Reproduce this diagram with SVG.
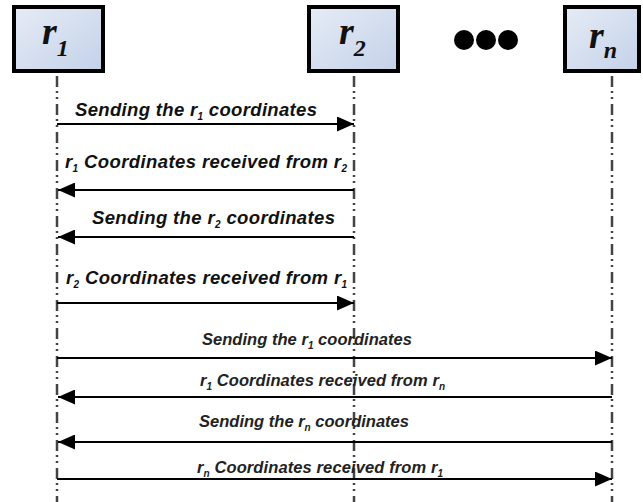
<svg xmlns="http://www.w3.org/2000/svg" width="643" height="502" viewBox="0 0 643 502">
<style>
.box{fill:url(#g);stroke:#000;stroke-width:4}
.life{stroke:#444;stroke-width:2.5;stroke-dasharray:11 4 2 4 2 5;fill:none}
.msg{stroke:#000;stroke-width:2;fill:none;marker-end:url(#ah)}
.lbl{font-family:"Liberation Sans",Arial,sans-serif;font-style:italic;font-weight:bold;font-size:18.5px;fill:#111}
.lbl2{font-family:"Liberation Sans",Arial,sans-serif;font-style:italic;font-weight:bold;font-size:16.5px;fill:#222}
.sub{font-size:10px}
.title{font-family:"Liberation Serif","Times New Roman",serif;font-style:italic;font-weight:bold;font-size:38px;fill:#111}
.tsub{font-size:24px}
</style>
<defs>
<linearGradient id="g" x1="0" y1="0" x2="1" y2="1">
<stop offset="0" stop-color="#e6ecf6"/>
<stop offset="1" stop-color="#c3d1e8"/>
</linearGradient>
<marker id="ah" markerUnits="userSpaceOnUse" markerWidth="17" markerHeight="15" refX="17" refY="7.5" orient="auto">
<path d="M0,0 L17,7.5 L0,15 z" fill="#000"/>
</marker>
</defs>
<rect width="643" height="502" fill="#fff"/>
<g id="lifelines">
<line class="life" x1="57" y1="76" x2="57" y2="502"/>
<line class="life" x1="354" y1="76" x2="354" y2="502"/>
<line class="life" x1="612" y1="76" x2="612" y2="502"/>
</g>
<g id="r1">
<rect class="box" x="14" y="7" width="89" height="64"/>
<text class="title" x="42" y="44">r<tspan class="tsub" dy="12">1</tspan></text>
</g>
<g id="r2">
<rect class="box" x="309" y="7" width="89" height="64"/>
<text class="title" x="339" y="44">r<tspan class="tsub" dy="12">2</tspan></text>
</g>
<g id="ellipsis">
<circle cx="464" cy="40" r="10" fill="#000"/>
<circle cx="486" cy="40" r="10" fill="#000"/>
<circle cx="508" cy="40" r="10" fill="#000"/>
</g>
<g id="rn">
<rect class="box" x="565" y="7" width="74" height="64"/>
<text class="title" x="589" y="48">r<tspan class="tsub" dy="10">n</tspan></text>
</g>
<g id="connectors">
<line class="msg" x1="57" y1="124" x2="354" y2="124"/>
<line class="msg" x1="354" y1="190" x2="58" y2="190"/>
<line class="msg" x1="354" y1="237" x2="58" y2="237"/>
<line class="msg" x1="57" y1="303" x2="354" y2="303"/>
<line class="msg" x1="57" y1="358" x2="612" y2="358"/>
<line class="msg" x1="612" y1="397" x2="58" y2="397"/>
<line class="msg" x1="612" y1="442" x2="58" y2="442"/>
<line class="msg" x1="57" y1="479" x2="612" y2="479"/>
</g>
<g id="labels">
<text class="lbl" x="75" y="116" textLength="242" lengthAdjust="spacing">Sending the r<tspan class="sub" dy="4">1</tspan><tspan dy="-4"> coordinates</tspan></text>
<text class="lbl" x="65" y="168" textLength="282" lengthAdjust="spacing">r<tspan class="sub" dy="4">1</tspan><tspan dy="-4"> Coordinates received from r</tspan><tspan class="sub" dy="4">2</tspan></text>
<text class="lbl" x="92" y="224" textLength="243" lengthAdjust="spacing">Sending the r<tspan class="sub" dy="4">2</tspan><tspan dy="-4"> coordinates</tspan></text>
<text class="lbl" x="66" y="284" textLength="281" lengthAdjust="spacing">r<tspan class="sub" dy="4">2</tspan><tspan dy="-4"> Coordinates received from r</tspan><tspan class="sub" dy="4">1</tspan></text>
<text class="lbl2" x="202" y="345" textLength="210" lengthAdjust="spacing">Sending the r<tspan class="sub" dy="4">1</tspan><tspan dy="-4"> coordinates</tspan></text>
<text class="lbl2" x="200" y="386" textLength="245" lengthAdjust="spacing">r<tspan class="sub" dy="4">1</tspan><tspan dy="-4"> Coordinates received from r</tspan><tspan class="sub" dy="4">n</tspan></text>
<text class="lbl2" x="199" y="427" textLength="210" lengthAdjust="spacing">Sending the r<tspan class="sub" dy="4">n</tspan><tspan dy="-4"> coordinates</tspan></text>
<text class="lbl2" x="197" y="473" textLength="246" lengthAdjust="spacing">r<tspan class="sub" dy="4">n</tspan><tspan dy="-4"> Coordinates received from r</tspan><tspan class="sub" dy="4">1</tspan></text>
</g>
</svg>
